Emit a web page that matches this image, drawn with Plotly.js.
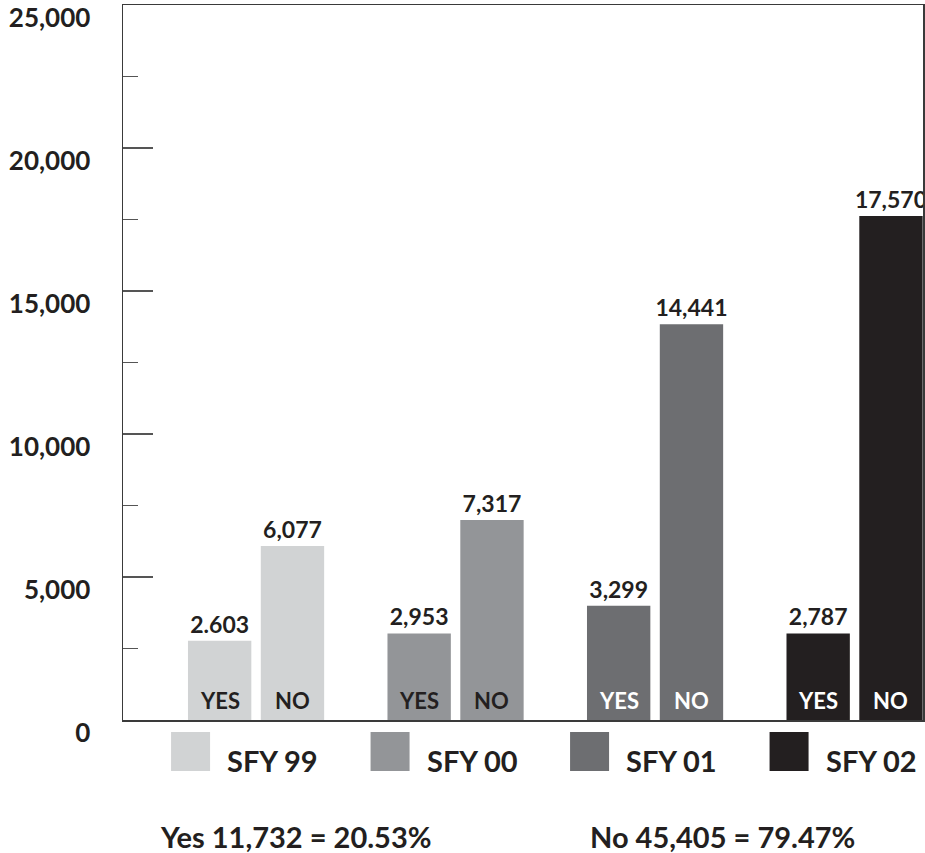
<!DOCTYPE html>
<html>
<head>
<meta charset="utf-8">
<script src="https://cdn.plot.ly/plotly-3.0.1.min.js"></script>
<style>html,body{margin:0;padding:0;background:#fff;}#chart{width:925px;height:853px;}</style>
</head>
<body>
<div id="chart"></div>
<script>
// ---- data ----
const categories = ['SFY 99', 'SFY 00', 'SFY 01', 'SFY 02'];
// bar heights as drawn in the picture
const yesValues = [2772, 3027, 3992, 3027];
const noValues = [6084, 6991, 13835, 17626];
// printed value labels
const yesLabels = ['2.603', '2,953', '3,299', '2,787'];
const noLabels = ['6,077', '7,317', '14,441', '17,570'];
const barLabels = ['YES', 'NO'];
const yTickVals = [0, 5000, 10000, 15000, 20000, 25000];
const yTickText = ['0', '5,000', '10,000', '15,000', '20,000', '25,000'];
const yMinorVals = [2500, 7500, 12500, 17500, 22500];
const summaryText = ['Yes 11,732 = 20.53%', 'No 45,405 = 79.47%'];

// ---- styles ----
const colors = ['#d1d3d4', '#939598', '#6d6e71', '#231f20'];
const innerTextColors = ['#231f20', '#231f20', '#ffffff', '#ffffff'];
const ink = '#231f20';
const FONT = 'Lato, "Open Sans", sans-serif';

function barTrace(name, vals, labels) {
  return {
    type: 'bar', name: name, x: categories, y: vals,
    marker: {color: colors, line: {width: 0}},
    text: labels, textposition: 'outside', constraintext: 'none', cliponaxis: false,
    outsidetextfont: {family: FONT, size: 23, color: ink, weight: 700},
    hoverinfo: 'skip', showlegend: false
  };
}
const traces = [barTrace('YES', yesValues, yesLabels), barTrace('NO', noValues, noLabels)];

const annotations = [];
const shapes = [];
categories.forEach((c, i) => {
  barLabels.forEach((lab, j) => {
    annotations.push({
      x: c, xref: 'x', y: 0, yref: 'y', yanchor: 'middle', xanchor: 'center',
      xshift: j === 0 ? -36.4 : 36.4, yshift: 20, showarrow: false, text: lab,
      font: {family: FONT, size: 22, color: innerTextColors[i], weight: 700}
    });
  });
  shapes.push({
    type: 'rect', xref: 'x', xsizemode: 'pixel', xanchor: c, x0: -85, x1: -46,
    yref: 'paper', y0: -0.0168, y1: -0.0713,
    fillcolor: colors[i], line: {width: 0}, layer: 'above'
  });
  annotations.push({
    x: c, xref: 'x', xanchor: 'left', xshift: -31, y: 0, yref: 'paper', yshift: -40,
    yanchor: 'middle', showarrow: false, text: c,
    font: {family: FONT, size: 29, color: ink, weight: 700}
  });
});
const summaryX = [0.216, 0.749];
summaryText.forEach((t, i) => {
  annotations.push({
    x: summaryX[i], xref: 'paper', xanchor: 'center', y: 0, yref: 'paper', yshift: -116,
    yanchor: 'middle', showarrow: false, text: t,
    font: {family: FONT, size: 29, color: ink, weight: 700}
  });
});

const layout = {
  width: 925, height: 853,
  margin: {l: 123, r: 2, t: 5, b: 133, pad: 0},
  paper_bgcolor: '#ffffff', plot_bgcolor: '#ffffff',
  barmode: 'group', bargap: 0.27, bargroupgap: 0.13,
  showlegend: false,
  xaxis: {
    type: 'category', range: [-0.667, 3.343], showticklabels: false, ticks: '',
    showline: true, mirror: true, linecolor: '#3a3a3a', linewidth: 1.5,
    showgrid: false, zeroline: false, fixedrange: true
  },
  yaxis: {
    range: [0, 25000], tickmode: 'array', tickvals: yTickVals, ticktext: yTickText,
    ticks: 'inside', ticklen: 30, tickwidth: 1.5, tickcolor: '#555555',
    minor: {tickmode: 'array', tickvals: yMinorVals, ticks: 'inside', ticklen: 15,
            tickwidth: 1.5, tickcolor: '#555555', showgrid: false},
    showline: true, mirror: true, linecolor: '#3a3a3a', linewidth: 1.5,
    showgrid: false, zeroline: false, fixedrange: true,
    tickfont: {family: FONT, size: 26, color: ink, weight: 700},
    ticklabelshift: 13, ticklabelstandoff: 26
  },
  annotations: annotations,
  shapes: shapes
};

Plotly.newPlot('chart', traces, layout, {displayModeBar: false, staticPlot: true});
</script>
</body>
</html>
